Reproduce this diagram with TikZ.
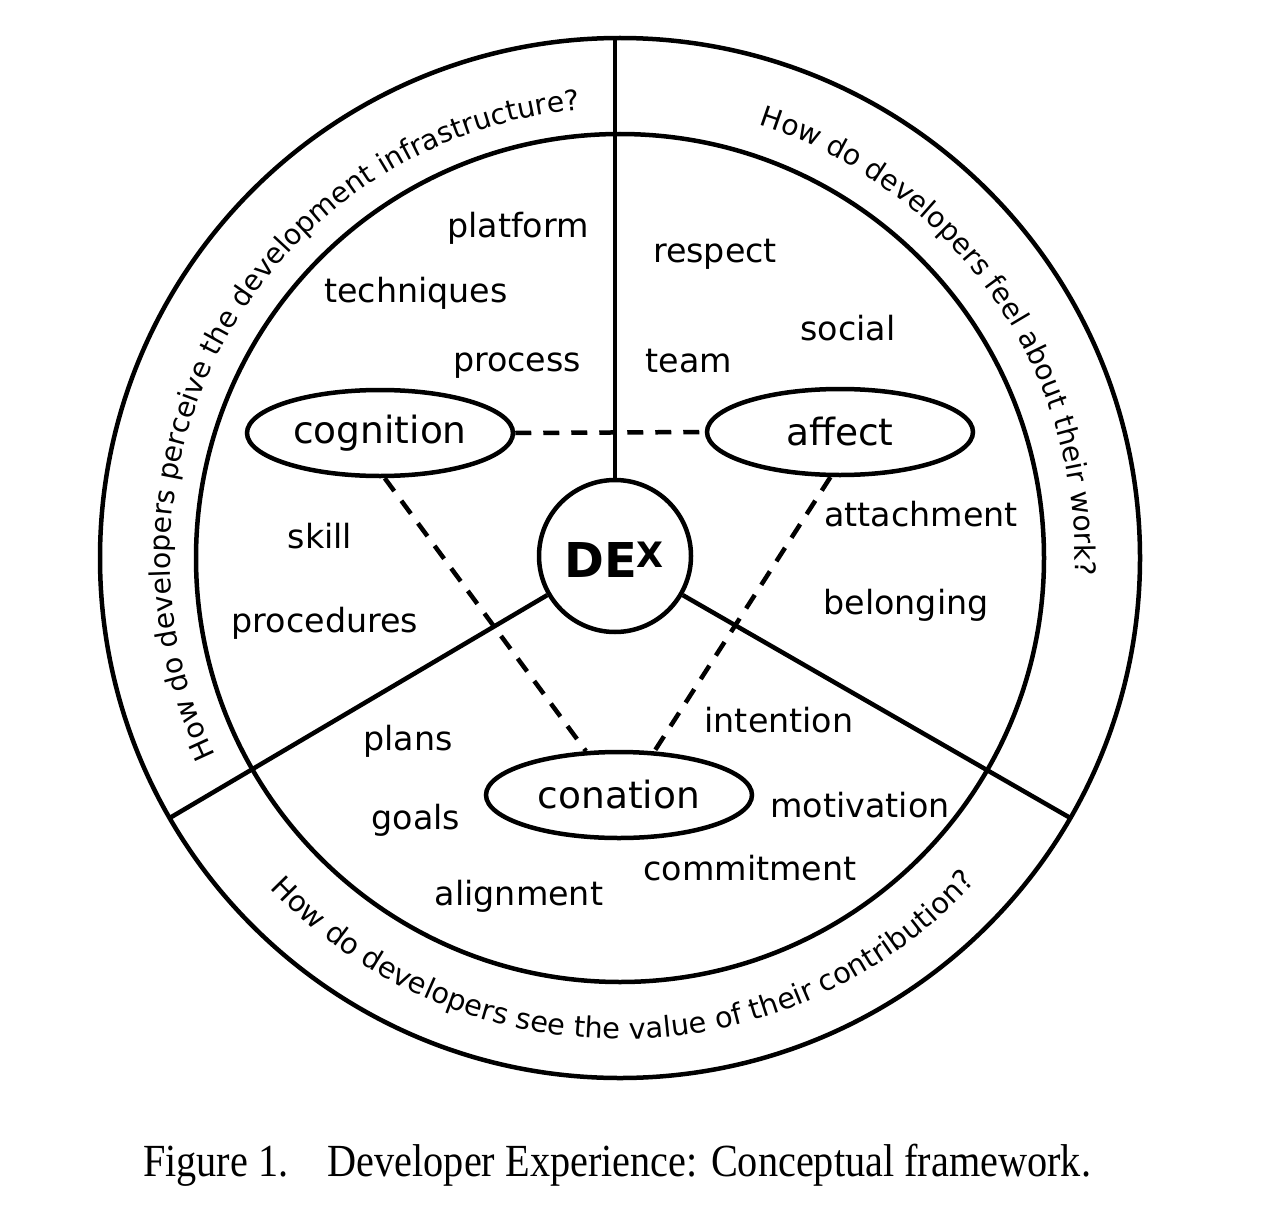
\documentclass[tikz,border=0pt]{standalone}
\usepackage{fontspec}
\usepackage{graphicx}
\setmainfont{Liberation Serif}
\newfontfamily\djv{DejaVu Sans}
\newcommand\arcfnt{\djv\fontsize{28.3}{34}\selectfont}
\newcommand\arcfntb{\djv\fontsize{28.8}{34}\selectfont}
\usetikzlibrary{shapes.geometric,decorations.text}
\begin{document}
\begin{tikzpicture}[x=1pt,y=1pt,
  ring/.style={line width=4.5pt},
  lbl/.style={font=\djv\fontsize{33.3}{40}\selectfont, anchor=base, inner sep=0pt},
  dim/.style={ellipse, draw, line width=4.5pt, minimum width=266pt, minimum height=86pt, inner sep=0pt, font=\djv\fontsize{37.5}{45}\selectfont},
  link/.style={line width=4.5pt, dash pattern=on 16pt off 12pt},
  arctext/.style={decorate, decoration={text along path, text align=center, text={#1}}}
]
\useasboundingbox (0,0) rectangle (1264,-1228);
\coordinate (C) at (620,-558);
\draw[ring] (C) circle[radius=520pt];
\draw[ring] (C) circle[radius=424pt];
\coordinate (otop) at ([shift={(C)}]90:520pt);
\coordinate (oleft) at ([shift={(C)}]210:520pt);
\coordinate (oright) at ([shift={(C)}]330:520pt);

\node[circle, draw, line width=4.5pt, minimum size=152pt, inner sep=0pt] (dex) at (615,-556) {};
\node[inner sep=0pt, font=\djv\bfseries\fontsize{48}{48}\selectfont] (dexlabel) at (614,-559.5)
  {DE\raisebox{10pt}{\fontsize{35}{35}\selectfont X}};

\draw[ring] (dex.north) -- (dex.north |- otop);
\draw[ring] (dex.210) -- (oleft);
\draw[ring] (dex.330) -- (oright);

\node[dim] (cog) at (380,-433) {cognition};
\node[dim] (aff) at (840,-432) {affect};
\node[dim] (con) at (619,-795) {conation};

\draw[link] (cog.east) -- (aff.west);
\draw[link] (cog.276) -- (con.127);
\draw[link] (aff.258) -- (con.51);

\node[lbl] (platform) at (518,-237) {platform};
\node[lbl] (techniques) at (416,-302) {techniques};
\node[lbl] (process) at (517,-371) {process};
\node[lbl] (respect) at (715,-262) {respect};
\node[lbl] (social) at (848,-340) {social};
\node[lbl] (team) at (689,-372) {team};
\node[lbl] (skill) at (320,-548) {skill};
\node[lbl] (procedures) at (325,-632) {procedures};
\node[lbl] (attachment) at (921,-526) {attachment};
\node[lbl] (belonging) at (906,-614) {belonging};
\node[lbl] (plans) at (408,-750) {plans};
\node[lbl] (intention) at (779,-732) {intention};
\node[lbl] (goals) at (416,-829) {goals};
\node[lbl] (motivation) at (860,-817) {motivation};
\node[lbl] (commitment) at (750,-880) {commitment};
\node[lbl] (alignment) at (519,-905) {alignment};

\path[arctext={|\arcfnt|How do developers perceive the development infrastructure?}]
  ([shift={(C)}]221:450pt) arc[start angle=221, end angle=80, radius=450pt];
\path[arctext={|\arcfnt|How do developers feel about their work?}]
  ([shift={(C)}]85:455pt) arc[start angle=85, end angle=-15, radius=455pt];
\path[arctext={|\arcfntb|How do developers see the value of their contribution?}]
  ([shift={(C)}]206:481pt) arc[start angle=206, end angle=335, radius=481pt];

\node[anchor=base, inner sep=0pt] (caption) at (617,-1176)
  {\scalebox{0.875}[1]{\fontsize{46}{54}\selectfont Figure 1.\hspace{45pt}Developer Experience: Conceptual framework.}};
\end{tikzpicture}
\end{document}
